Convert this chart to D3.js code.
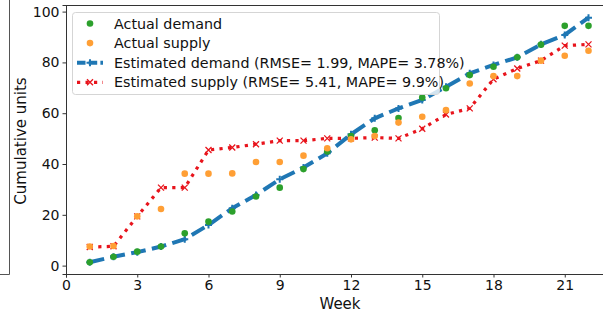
<!DOCTYPE html>
<html>
<head>
<meta charset="utf-8">
<script src="https://cdn.jsdelivr.net/npm/d3@7"></script>
<style>
  body { margin: 0; background: #fff; }
  svg text { font-family: "DejaVu Sans", sans-serif; }
</style>
</head>
<body>
<div id="chart"></div>
<script>
var svgWidth = 603;
var svgHeight = 314;
var margin = ({top: 5, right: -10, bottom: 40, left: 66});

var weeks = d3.range(1, 23);
var actualDemand = [1.3, 3.5, 5.5, 7.5, 12.7, 17.3, 21.3, 27.2, 30.7, 38, 44.9, 51, 53.3, 58.1, 66.2, 69.8, 75, 78.3, 82, 87, 94.4, 94.4];
var actualSupply = [7.5, 7.7, 19.4, 22.3, 36.2, 36.2, 36.3, 40.8, 40.8, 43.3, 46.2, 49.7, 51, 56.3, 58.6, 61.2, 71.7, 74.6, 74.6, 80.7, 82.6, 84.6];
var estDemand = [1.3, 3.5, 5.3, 7.5, 10.4, 16, 22.6, 27.8, 34, 38.6, 44.2, 51.7, 58, 61.9, 65.2, 70.4, 75.7, 79, 82, 87.1, 90.8, 97.6];
var estSupply = [7.3, 7.6, 19.4, 30.7, 30.7, 45.5, 46.5, 47.8, 49.2, 49.2, 50.1, 50.1, 50.4, 50.1, 53.9, 59.5, 61.9, 73.4, 77.6, 80.7, 86.6, 87.1];
var xTicks = [0, 3, 6, 9, 12, 15, 18, 21];
var yTicks = [0, 20, 40, 60, 80, 100];
var legendLabels = ["Actual demand", "Actual supply",
    "Estimated demand (RMSE= 1.99, MAPE= 3.78%)",
    "Estimated supply (RMSE= 5.41, MAPE= 9.9%)"];

var colors = {demand: "#2ca02c", supply: "#ff9f35", estD: "#1f77b4", estS: "#e8141c"};

var x = d3.scaleLinear().domain([0, 23.05]).range([margin.left, margin.left + 23.05 * 23.75]);
var y = d3.scaleLinear().domain([-3.3, 102.6]).range([274, 5]);

var svg = d3.select("#chart").append("svg")
    .attr("width", svgWidth)
    .attr("height", svgHeight);

// stray frame edge on the far left
svg.append("path").attr("d", "M9.5,0V274.5H0").attr("fill", "none").attr("stroke", "#555").attr("stroke-width", 1);

var plot = svg.append("g");

// estimated supply (dotted red with x markers)
var line = d3.line().x((d, i) => x(weeks[i])).y(d => y(d));
plot.append("path").datum(estSupply)
    .attr("fill", "none").attr("stroke", colors.estS)
    .attr("stroke-width", 3.2).attr("stroke-dasharray", "3.2,5.3")
    .attr("d", line);
plot.selectAll(".xmark").data(estSupply).enter().append("path")
    .attr("class", "xmark")
    .attr("transform", (d, i) => "translate(" + x(weeks[i]) + "," + y(d) + ")")
    .attr("d", "M-3,-3L3,3M-3,3L3,-3")
    .attr("stroke", colors.estS).attr("stroke-width", 1.3);

// estimated demand (dashed blue with + markers)
plot.append("path").datum(estDemand)
    .attr("fill", "none").attr("stroke", colors.estD)
    .attr("stroke-width", 4).attr("stroke-dasharray", "14.8,6.4")
    .attr("d", line);
plot.selectAll(".pmark").data(estDemand).enter().append("path")
    .attr("class", "pmark")
    .attr("transform", (d, i) => "translate(" + x(weeks[i]) + "," + y(d) + ")")
    .attr("d", "M-3.5,0H3.5M0,-3.5V3.5")
    .attr("stroke", colors.estD).attr("stroke-width", 2);

// actual points
plot.selectAll(".dem").data(actualDemand).enter().append("circle")
    .attr("class", "dem")
    .attr("cx", (d, i) => x(weeks[i])).attr("cy", d => y(d)).attr("r", 3.3)
    .attr("fill", colors.demand);
plot.selectAll(".sup").data(actualSupply).enter().append("circle")
    .attr("class", "sup")
    .attr("cx", (d, i) => x(weeks[i])).attr("cy", d => y(d)).attr("r", 3.3)
    .attr("fill", colors.supply);

// axes
var xAxis = svg.append("g")
    .attr("transform", "translate(0,274)")
    .call(d3.axisBottom(x).tickValues(xTicks).tickSize(3.5).tickPadding(3));
var yAxis = svg.append("g")
    .attr("transform", "translate(66,0)")
    .call(d3.axisLeft(y).tickValues(yTicks).tickSize(3.5).tickPadding(3));
[xAxis, yAxis].forEach(function (a) {
    a.selectAll("text").attr("font-size", 14).attr("fill", "#111").style("font-family", "DejaVu Sans");
    a.selectAll("line").attr("stroke", "#333");
    a.select(".domain").attr("stroke", "#333");
});
svg.append("line").attr("x1", 66).attr("x2", 603).attr("y1", 5.5).attr("y2", 5.5).attr("stroke", "#333");

svg.append("text").attr("x", 340).attr("y", 309).attr("text-anchor", "middle")
    .attr("font-size", 15).attr("fill", "#111").text("Week");
svg.append("text").attr("transform", "translate(26,141) rotate(-90)").attr("text-anchor", "middle")
    .attr("font-size", 15).attr("fill", "#111").text("Cumulative units");

// legend
var lg = svg.append("g");
lg.append("rect").attr("x", 72.5).attr("y", 12.5).attr("width", 367).attr("height", 82)
    .attr("rx", 3).attr("fill", "#fff").attr("fill-opacity", 0.8).attr("stroke", "#d5d5d5");
var ly = d3.scalePoint().domain(legendLabels).range([23.5, 82.3]);
var items = lg.selectAll(".legend").data(legendLabels).enter().append("g")
    .attr("class", "legend")
    .attr("transform", d => "translate(0," + ly(d) + ")");
items.append("text").attr("x", 114).attr("dy", "0.35em").attr("font-size", 14.3).attr("fill", "#111").text(d => d);
d3.select(items.nodes()[0]).append("circle").attr("cx", 90).attr("r", 3.3).attr("fill", colors.demand);
d3.select(items.nodes()[1]).append("circle").attr("cx", 90).attr("r", 3.3).attr("fill", colors.supply);
var i2 = d3.select(items.nodes()[2]);
i2.append("path").attr("d", "M77,0H103").attr("stroke", colors.estD).attr("stroke-width", 4).attr("stroke-dasharray", "8.5,3.2");
i2.append("path").attr("d", "M86.5,0H93.5M90,-3.5V3.5").attr("stroke", colors.estD).attr("stroke-width", 2);
var i3 = d3.select(items.nodes()[3]);
i3.append("path").attr("d", "M77,0H103").attr("stroke", colors.estS).attr("stroke-width", 3.2).attr("stroke-dasharray", "3.2,5.3");
i3.append("path").attr("d", "M87,-3L93,3M87,3L93,-3").attr("stroke", colors.estS).attr("stroke-width", 1.3);
</script>
</body>
</html>
